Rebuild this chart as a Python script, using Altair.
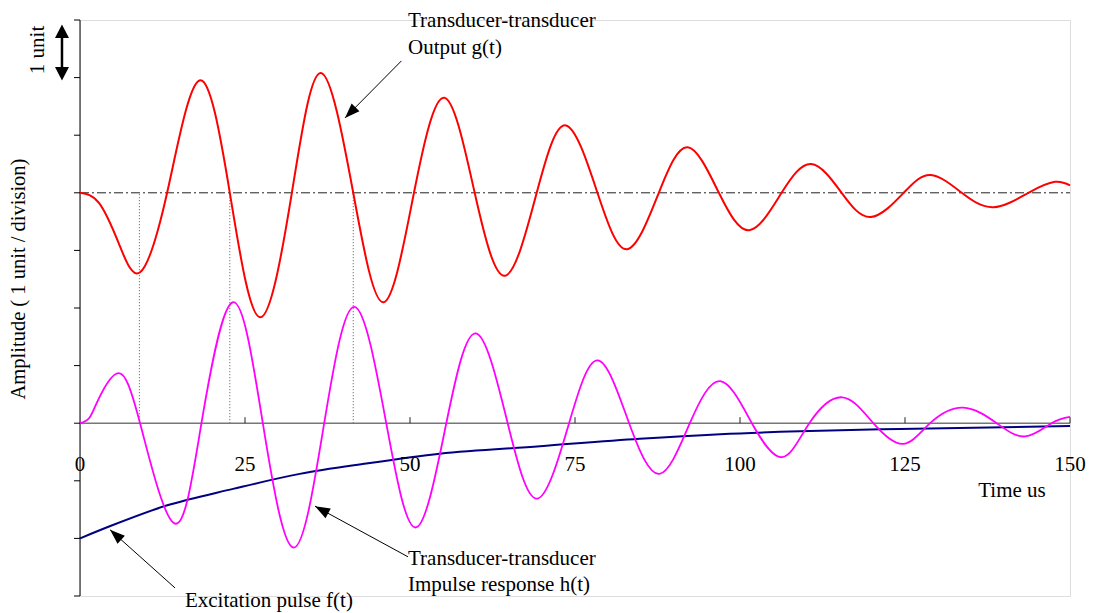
import math
import altair as alt
import pandas as pd

# ---- traces (time in us, amplitude in units) ----
g_t = [0, 2.9, 5.95, 9.1, 13.2, 18.1, 22.7, 27.3, 32.1, 36.5, 41.4, 46.0,
       50.6, 55.2, 59.8, 64.4, 69.2, 73.6, 78.4, 82.9, 87.7, 92.1, 96.8, 101.4,
       106.3, 110.8, 115.4, 119.8, 124.8, 128.9, 133.6, 138.4, 143.7, 147.7, 150]
g_v = [4.0, 3.82, 3.10, 2.62, 4.0, 5.95, 4.0, 1.84, 4.0, 6.08, 4.0, 2.10,
       4.0, 5.65, 4.0, 2.56, 4.0, 5.17, 4.0, 3.02, 4.0, 4.79, 4.0, 3.35,
       4.0, 4.50, 4.0, 3.58, 4.0, 4.31, 4.0, 3.75, 4.0, 4.19, 4.13]

h_t = [0, 1.4, 2.9, 5.85, 9.1, 14.3, 18.4, 23.2, 27.7, 32.4, 37.0, 41.6, 46.4, 50.9,
       55.5, 60.0, 64.8, 69.3, 74.1, 78.5, 83.2, 87.8, 92.4, 97.0, 101.8, 106.4,
       110.5, 115.5, 120.2, 124.7, 128.8, 133.8, 138.9, 143.2, 147.2, 150]
h_v = [0, 0.09, 0.44, 0.87, 0, -1.74, 0, 2.10, 0, -2.16, 0, 2.02, 0, -1.81,
       0, 1.56, 0, -1.31, 0, 1.09, 0, -0.88, 0, 0.73, 0, -0.59,
       0, 0.45, 0, -0.36, 0, 0.27, 0, -0.23, 0, 0.11]

f_t = [0, 4.5, 13.1, 23.2, 33.3, 43.4, 54.5, 69.7, 84.8, 97, 109, 124.2, 150]
f_v = [-2.0, -1.79, -1.43, -1.14, -0.88, -0.70, -0.53, -0.40, -0.27, -0.19,
       -0.14, -0.10, -0.05]

# reference level of g(t) and the instants marked by dotted guides
g_level = 4.0
guide_t = [9.0, 22.7, 41.4]

x_ticks = [0, 25, 50, 75, 100, 125, 150]
y_ticks = list(range(-3, 8))

# ---- layout ----
W, H = 990, 576
T_MIN, T_MAX = 0, 150
V_MIN, V_MAX = -3, 7
PX_T = W / (T_MAX - T_MIN)
PX_V = H / (V_MAX - V_MIN)

FONT = "Liberation Serif"
FS = 21

xs = alt.Scale(domain=[T_MIN, T_MAX], nice=False, zero=False)
ys = alt.Scale(domain=[V_MIN, V_MAX], nice=False, zero=False)


def X(f):
    return alt.X(f"{f}:Q", scale=xs, axis=None)


def Y(f):
    return alt.Y(f"{f}:Q", scale=ys, axis=None)


def curve(ts, vs, color, width, interp):
    df = pd.DataFrame({"t": ts, "v": vs})
    return alt.Chart(df).mark_line(
        color=color, strokeWidth=width, interpolate=interp
    ).encode(x=X("t"), y=Y("v"), order="t:Q")


# dash-dot reference level
level = alt.Chart(pd.DataFrame({"t": [T_MIN], "t2": [T_MAX], "v": [g_level]})).mark_rule(
    color="#222222", strokeWidth=1, strokeDash=[9, 3, 2, 3]
).encode(x=X("t"), x2="t2:Q", y=Y("v"))

guides = alt.Chart(pd.DataFrame({"t": guide_t, "v0": [0] * len(guide_t),
                                 "v1": [g_level] * len(guide_t)})).mark_rule(
    color="#555555", strokeWidth=1, strokeDash=[1, 2]
).encode(x=X("t"), y=Y("v0"), y2="v1:Q")

# time axis drawn along zero amplitude
x_line = alt.Chart(pd.DataFrame({"t": [T_MIN], "t2": [T_MAX], "v": [0]})).mark_rule(
    color="#777777", strokeWidth=1.5
).encode(x=X("t"), x2="t2:Q", y=Y("v"))

x_tick_df = pd.DataFrame({"t": x_ticks[1:], "v0": 0.0, "v1": 6 / PX_V})
x_tick_marks = alt.Chart(x_tick_df).mark_rule(color="#222222", strokeWidth=1).encode(
    x=X("t"), y=Y("v0"), y2="v1:Q")

x_lab_df = pd.DataFrame({"t": x_ticks, "lab": [str(v) for v in x_ticks], "v": -0.72})
x_labels = alt.Chart(x_lab_df).mark_text(
    font=FONT, fontSize=FS, color="black", baseline="middle", align="center"
).encode(x=X("t"), y=Y("v"), text="lab:N")

# amplitude axis: line with outward ticks, no numbers
y_line = alt.Chart(pd.DataFrame({"t": [0], "v0": [V_MIN], "v1": [V_MAX]})).mark_rule(
    color="black", strokeWidth=1
).encode(x=X("t"), y=Y("v0"), y2="v1:Q")

y_tick_df = pd.DataFrame({"t0": -6 / PX_T, "t1": 0.0, "v": y_ticks})
y_tick_marks = alt.Chart(y_tick_df).mark_rule(color="black", strokeWidth=1).encode(
    x=X("t0"), x2="t1:Q", y=Y("v"))

y_title = alt.Chart(pd.DataFrame({"lab": ["Amplitude ( 1 unit / division)"]})).mark_text(
    font=FONT, fontSize=20.5, color="black", angle=270, baseline="middle", align="center"
).encode(x=alt.value(-61), y=alt.value(259), text="lab:N")

unit_lab = alt.Chart(pd.DataFrame({"lab": ["1 unit"]})).mark_text(
    font=FONT, fontSize=FS, color="black", angle=270, baseline="middle", align="center"
).encode(x=alt.value(-42), y=alt.value(30), text="lab:N")

time_lab = alt.Chart(pd.DataFrame({"lab": ["Time us"], "t": [136.1], "v": [-1.28]})).mark_text(
    font=FONT, fontSize=FS, color="black", baseline="alphabetic", align="left"
).encode(x=X("t"), y=Y("v"), text="lab:N")

# callout labels
notes = pd.DataFrame({
    "lab": ["Transducer-transducer", "Output g(t)",
            "Transducer-transducer", "Impulse response h(t)",
            "Excitation pulse f(t)"],
    "t": [49.7, 49.7, 49.7, 49.7, 15.9],
    "v": [6.87, 6.41, -2.46, -2.91, -3.19],
})
note_text = alt.Chart(notes).mark_text(
    font=FONT, fontSize=FS, color="black", baseline="alphabetic", align="left"
).encode(x=X("t"), y=Y("v"), text="lab:N")

# callout arrows: start -> tip
arrows = pd.DataFrame({
    "t0": [48.7, 49.7, 14.4],
    "v0": [6.29, -2.32, -2.86],
    "t1": [40.15, 35.6, 4.55],
    "v1": [5.30, -1.44, -1.85],
})
arrows["ang"] = [
    (math.degrees(math.atan2((r.t1 - r.t0) * PX_T, (r.v1 - r.v0) * PX_V)) + 360) % 360
    for r in arrows.itertuples()
]
shafts = alt.Chart(arrows).mark_rule(color="black", strokeWidth=1).encode(
    x=X("t0"), y=Y("v0"), x2="t1:Q", y2="v1:Q")
HEAD = "M0,0L-0.55,1.5L0.55,1.5Z"
heads = alt.Chart(arrows).mark_point(
    shape=HEAD, filled=True, color="black", opacity=1, size=400, strokeWidth=0
).encode(x=X("t1"), y=Y("v1"), angle=alt.Angle("ang:Q", scale=None))

# scale marker: double-headed arrow spanning one unit
unit_t = -2.73
unit_top, unit_bot = 6.92, 5.95
unit_shaft = alt.Chart(pd.DataFrame({"t": [unit_t], "v0": [unit_top - 0.2],
                                     "v1": [unit_bot + 0.2]})).mark_rule(
    color="black", strokeWidth=2.5
).encode(x=X("t"), y=Y("v0"), y2="v1:Q")
UHEAD = "M0,0L-0.7,1.35L0.7,1.35Z"
unit_heads = alt.Chart(pd.DataFrame({"t": [unit_t, unit_t], "v": [unit_top, unit_bot],
                                     "ang": [0, 180]})).mark_point(
    shape=UHEAD, filled=True, color="black", opacity=1, size=400, strokeWidth=0
).encode(x=X("t"), y=Y("v"), angle=alt.Angle("ang:Q", scale=None))

chart = alt.layer(
    level, guides, x_line, x_tick_marks, y_line, y_tick_marks,
    curve(f_t, f_v, "#000080", 2, "monotone"),
    curve(h_t, h_v, "#FF00FF", 1.8, "natural"),
    curve(g_t, g_v, "#FF0000", 2, "natural"),
    x_labels, y_title, unit_lab, time_lab, note_text,
    shafts, heads, unit_shaft, unit_heads,
).properties(
    width=W, height=H,
    autosize=alt.AutoSizeParams(type="none"),
    padding={"left": 80, "top": 20, "right": 27, "bottom": 17},
).configure_view(stroke=None).configure(background="white")

chart.save("out.html", embed_options={"renderer": "svg", "actions": False})
